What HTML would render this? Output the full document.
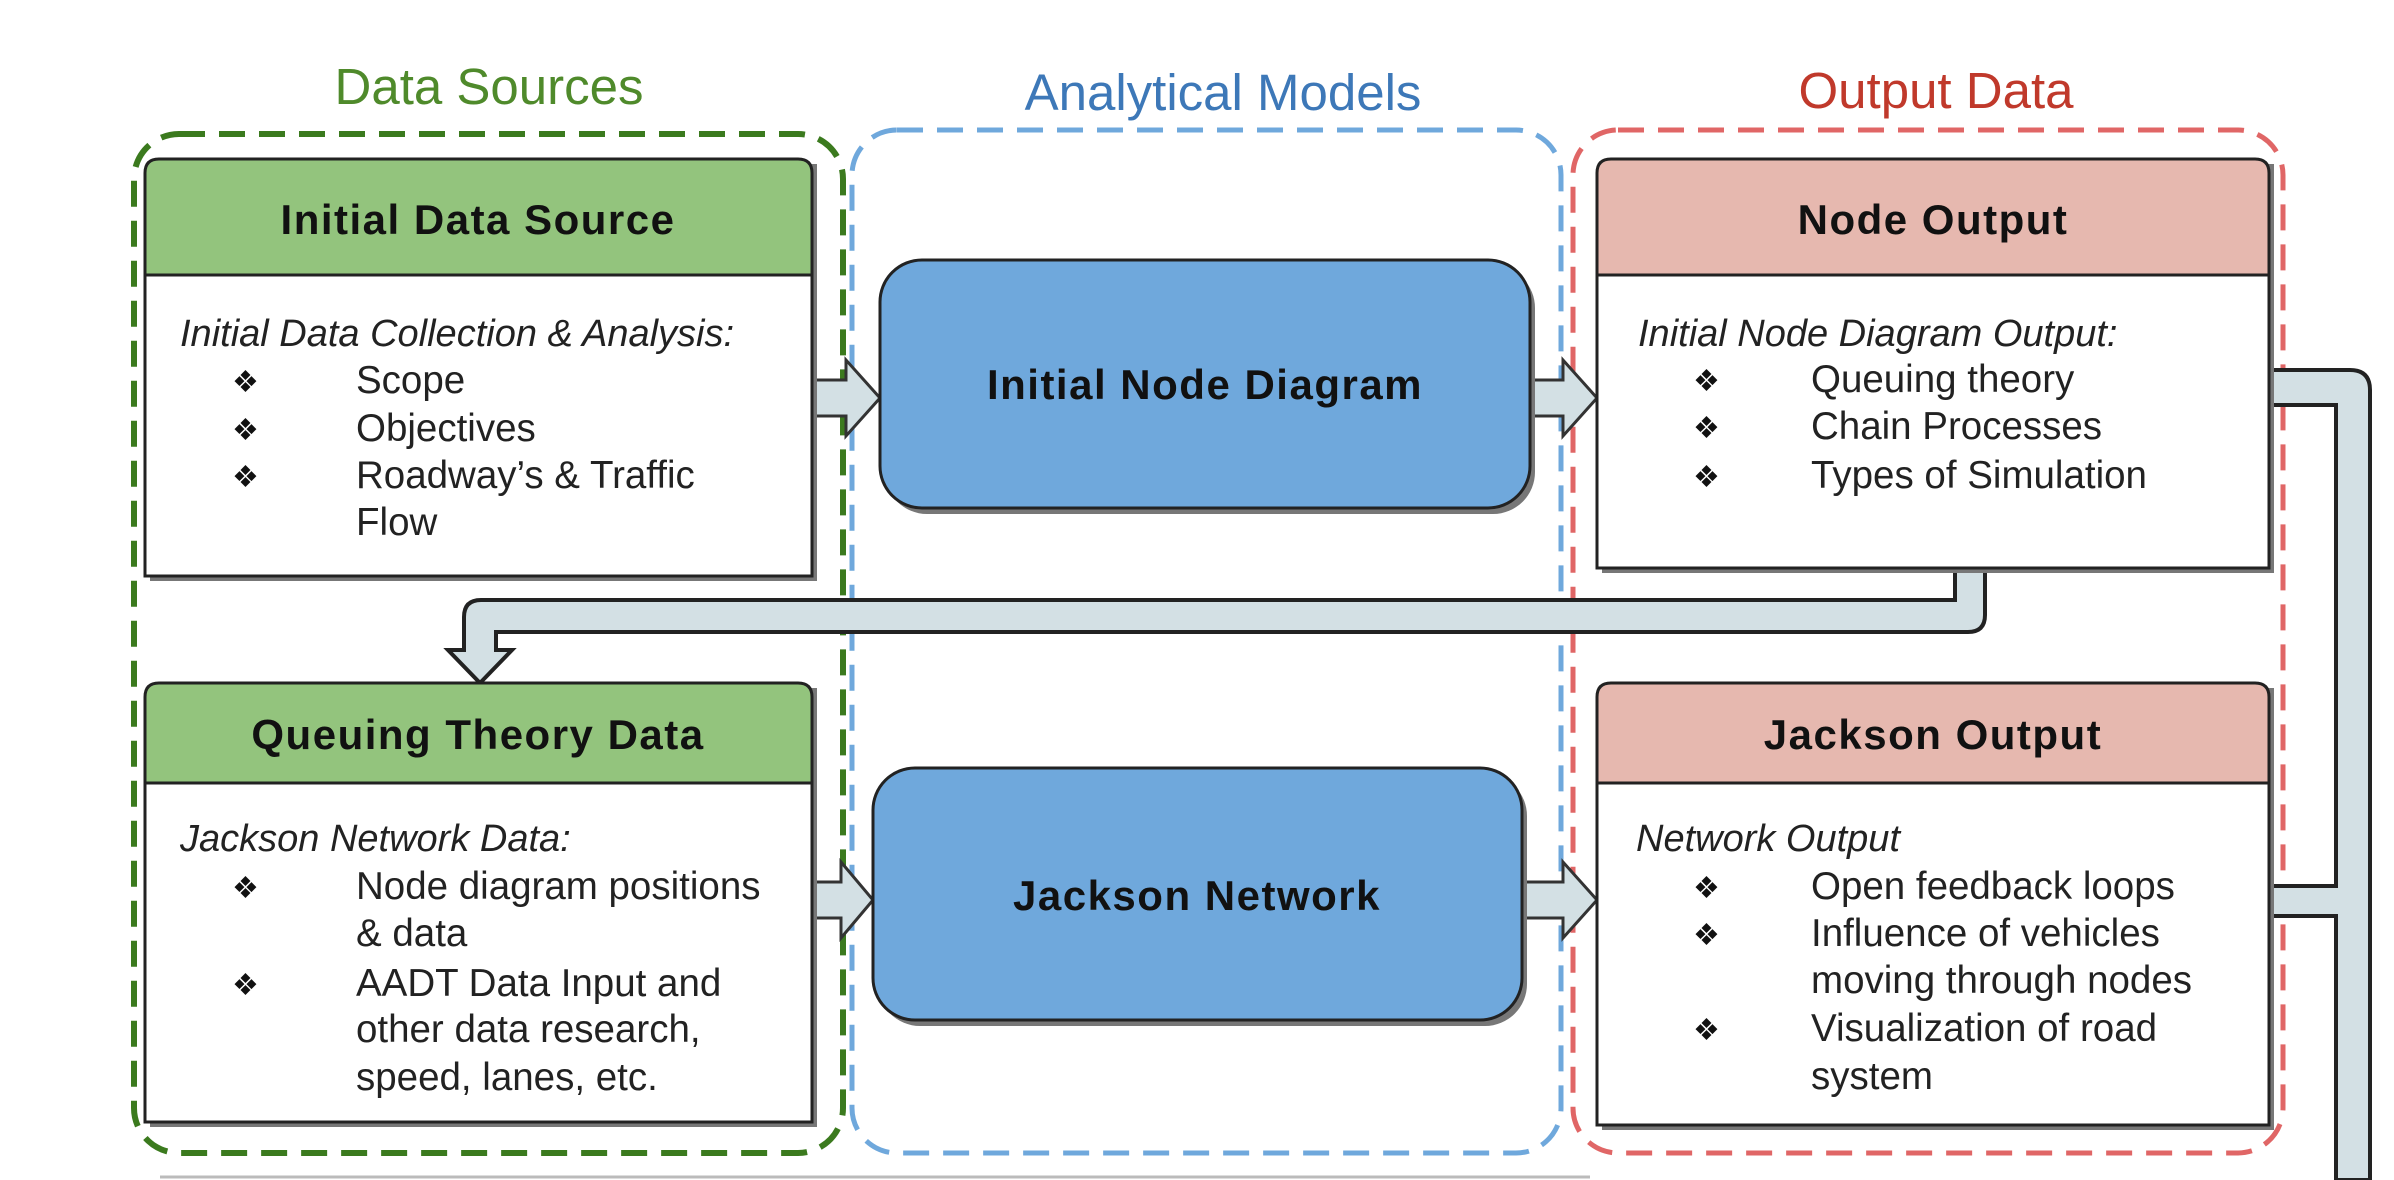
<!DOCTYPE html>
<html><head><meta charset="utf-8"><style>
html,body{margin:0;padding:0;background:#fff;}
svg{display:block;}
text{font-family:"Liberation Sans",sans-serif;}
.t{font-size:38.5px;fill:#222;}
.i{font-size:38px;fill:#222;font-style:italic;}
.h{font-size:42px;font-weight:bold;fill:#111;letter-spacing:1.5px;}
.b{font-size:30px;fill:#111;}
</style></head><body>
<svg width="2394" height="1180" viewBox="0 0 2394 1180" xmlns="http://www.w3.org/2000/svg">
<!-- titles -->
<text x="489" y="104" font-size="51" fill="#4f8a2b" text-anchor="middle">Data Sources</text>
<text x="1223" y="110" font-size="51" fill="#3d78b8" text-anchor="middle">Analytical Models</text>
<text x="1936" y="108" font-size="51" fill="#c0392b" text-anchor="middle">Output Data</text>
<!-- dashed containers -->
<rect x="134" y="134" width="709" height="1019" rx="45" fill="none" stroke="#3b7a1e" stroke-width="6" stroke-dasharray="26,14"/>
<rect x="852" y="130" width="709" height="1023" rx="45" fill="none" stroke="#6fa8dc" stroke-width="5" stroke-dasharray="26,14"/>
<rect x="1573" y="130" width="710" height="1023" rx="45" fill="none" stroke="#e06666" stroke-width="5" stroke-dasharray="26,14"/>
<!-- bottom line -->
<line x1="160" y1="1177" x2="1590" y2="1177" stroke="#bbb" stroke-width="3"/>
<!-- right bracket connector -->
<path d="M2269 370 H2350 Q2370 370 2370 390 V1180 H2336 V916 H2269 V886 H2336 V405 H2269 Z" fill="#d3e0e4" stroke="#222" stroke-width="4"/>
<!-- node output to queuing connector -->
<path d="M1955 566 H1985 V615 Q1985 632 1968 632 H496 V650 H512 L480 683 L448 650 H464 V617 Q464 600 481 600 H1955 Z" fill="#d3e0e4" stroke="#222" stroke-width="4"/>
<!-- block arrows -->
<g fill="#d3e0e4" stroke="#333" stroke-width="3">
<path d="M812 380 H846 V360 L880 398 L846 436 V416 H812 Z"/>
<path d="M1530 380 H1563 V360 L1597 398 L1563 436 V416 H1530 Z"/>
<path d="M812 882 H841 V862 L873 900 L841 938 V918 H812 Z"/>
<path d="M1522 882 H1563 V862 L1597 900 L1563 938 V918 H1522 Z"/>
</g>
<!-- shadows -->
<g fill="#777">
<rect x="150" y="164" width="667" height="417"/>
<rect x="150" y="688" width="667" height="439"/>
<rect x="1602" y="164" width="672" height="409"/>
<rect x="1602" y="688" width="672" height="442"/>
<rect x="885" y="266" width="650" height="248" rx="42"/>
<rect x="878" y="774" width="649" height="252" rx="42"/>
</g>
<!-- Initial Data Source -->
<path d="M145 275 V173 Q145 159 159 159 H798 Q812 159 812 173 V275 Z" fill="#93c47d" stroke="#222" stroke-width="3"/>
<rect x="145" y="275" width="667" height="301" fill="#fff" stroke="#222" stroke-width="3"/>
<text x="478" y="234" class="h" text-anchor="middle">Initial Data Source</text>
<text x="180" y="346" class="i">Initial Data Collection &amp; Analysis:</text>
<text x="232" y="392" class="b">❖</text><text x="356" y="393" class="t">Scope</text>
<text x="232" y="440" class="b">❖</text><text x="356" y="441" class="t">Objectives</text>
<text x="232" y="487" class="b">❖</text><text x="356" y="488" class="t">Roadway’s &amp; Traffic</text>
<text x="356" y="535" class="t">Flow</text>
<!-- Queuing Theory Data -->
<path d="M145 783 V697 Q145 683 159 683 H798 Q812 683 812 697 V783 Z" fill="#93c47d" stroke="#222" stroke-width="3"/>
<rect x="145" y="783" width="667" height="339" fill="#fff" stroke="#222" stroke-width="3"/>
<text x="478" y="749" class="h" text-anchor="middle">Queuing Theory Data</text>
<text x="180" y="851" class="i">Jackson Network Data:</text>
<text x="232" y="898" class="b">❖</text><text x="356" y="899" class="t">Node diagram positions</text>
<text x="356" y="946" class="t">&amp; data</text>
<text x="232" y="995" class="b">❖</text><text x="356" y="996" class="t">AADT Data Input and</text>
<text x="356" y="1042" class="t">other data research,</text>
<text x="356" y="1090" class="t">speed, lanes, etc.</text>
<!-- Blue boxes -->
<rect x="880" y="260" width="650" height="248" rx="42" fill="#6fa8dc" stroke="#222" stroke-width="3"/>
<text x="1205" y="399" class="h" text-anchor="middle">Initial Node Diagram</text>
<rect x="873" y="768" width="649" height="252" rx="42" fill="#6fa8dc" stroke="#222" stroke-width="3"/>
<text x="1197" y="910" class="h" text-anchor="middle">Jackson Network</text>
<!-- Node Output -->
<path d="M1597 275 V173 Q1597 159 1611 159 H2255 Q2269 159 2269 173 V275 Z" fill="#e6b8af" stroke="#222" stroke-width="3"/>
<rect x="1597" y="275" width="672" height="293" fill="#fff" stroke="#222" stroke-width="3"/>
<text x="1933" y="234" class="h" text-anchor="middle">Node Output</text>
<text x="1638" y="346" class="i">Initial Node Diagram Output:</text>
<text x="1693" y="391" class="b">❖</text><text x="1811" y="392" class="t">Queuing theory</text>
<text x="1693" y="438" class="b">❖</text><text x="1811" y="439" class="t">Chain Processes</text>
<text x="1693" y="487" class="b">❖</text><text x="1811" y="488" class="t">Types of Simulation</text>
<!-- Jackson Output -->
<path d="M1597 783 V697 Q1597 683 1611 683 H2255 Q2269 683 2269 697 V783 Z" fill="#e6b8af" stroke="#222" stroke-width="3"/>
<rect x="1597" y="783" width="672" height="342" fill="#fff" stroke="#222" stroke-width="3"/>
<text x="1933" y="749" class="h" text-anchor="middle">Jackson Output</text>
<text x="1636" y="851" class="i">Network Output</text>
<text x="1693" y="898" class="b">❖</text><text x="1811" y="899" class="t">Open feedback loops</text>
<text x="1693" y="945" class="b">❖</text><text x="1811" y="946" class="t">Influence of vehicles</text>
<text x="1811" y="993" class="t">moving through nodes</text>
<text x="1693" y="1040" class="b">❖</text><text x="1811" y="1041" class="t">Visualization of road</text>
<text x="1811" y="1089" class="t">system</text>
</svg>
</body></html>
